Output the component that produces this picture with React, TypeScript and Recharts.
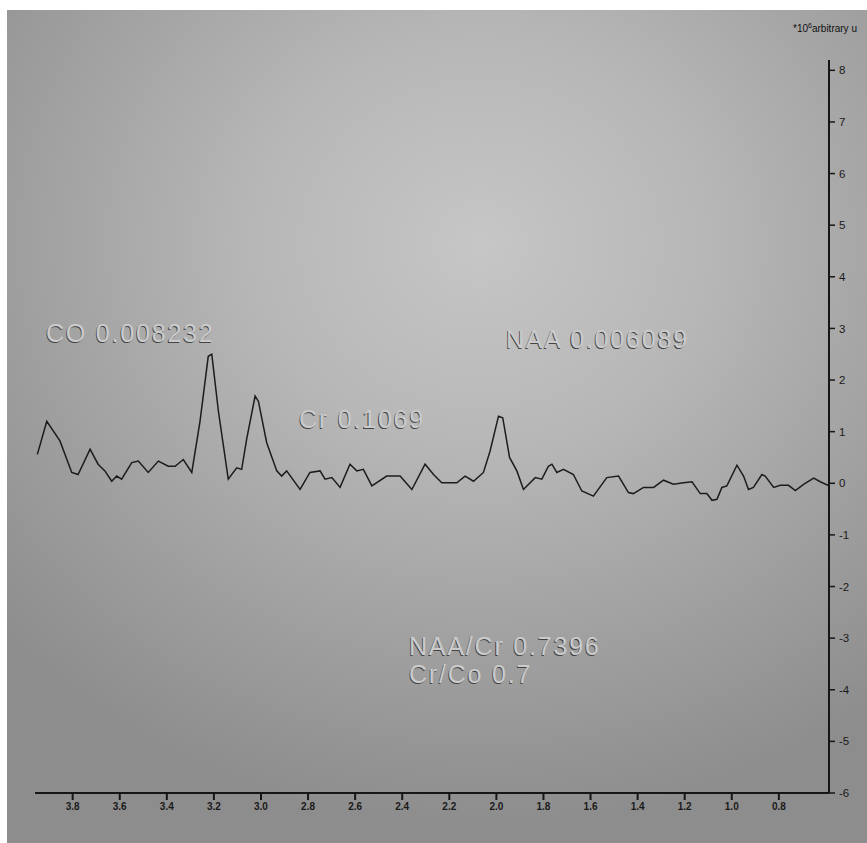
import React from "react";
import { LineChart, Line, XAxis, YAxis } from "recharts";

const ppm = [
  3.95, 3.91, 3.854, 3.804, 3.777, 3.726, 3.692, 3.663, 3.634, 3.613, 3.592, 3.549, 3.521, 3.479, 3.436,
  3.394, 3.365, 3.33, 3.294, 3.259, 3.224, 3.209, 3.181, 3.139, 3.103, 3.082, 3.061, 3.025, 3.011, 2.976,
  2.933, 2.912, 2.891, 2.834, 2.792, 2.749, 2.728, 2.699, 2.664, 2.622, 2.593, 2.565, 2.529, 2.466, 2.409,
  2.359, 2.303, 2.267, 2.232, 2.168, 2.133, 2.097, 2.055, 2.027, 1.991, 1.973, 1.944, 1.913, 1.885, 1.835,
  1.807, 1.779, 1.764, 1.743, 1.715, 1.673, 1.637, 1.588, 1.531, 1.481, 1.439, 1.418, 1.375, 1.332, 1.29,
  1.248, 1.205, 1.169, 1.134, 1.106, 1.084, 1.063, 1.042, 1.021, 0.978, 0.95, 0.929, 0.908, 0.872, 0.858,
  0.822, 0.794, 0.759, 0.73, 0.695, 0.652, 0.624, 0.587,
];

const intensity = [
  0.56, 1.2, 0.82, 0.21, 0.17, 0.66, 0.37, 0.24, 0.04, 0.14, 0.08, 0.4, 0.43, 0.21, 0.43,
  0.33, 0.33, 0.46, 0.21, 1.2, 2.46, 2.5, 1.4, 0.08, 0.3, 0.27, 0.85, 1.69, 1.59, 0.79,
  0.24, 0.14, 0.24, -0.12, 0.21, 0.24, 0.08, 0.11, -0.08, 0.37, 0.24, 0.27, -0.05, 0.14, 0.14,
  -0.12, 0.37, 0.17, 0.01, 0.01, 0.14, 0.04, 0.21, 0.62, 1.3, 1.27, 0.5, 0.24, -0.12, 0.11,
  0.08, 0.33, 0.37, 0.21, 0.27, 0.17, -0.15, -0.25, 0.11, 0.14, -0.18, -0.2, -0.08, -0.08, 0.06,
  -0.02, 0.01, 0.03, -0.2, -0.2, -0.33, -0.31, -0.08, -0.05, 0.35, 0.14, -0.12, -0.08, 0.17, 0.14,
  -0.08, -0.04, -0.04, -0.14, -0.02, 0.1, 0.03, -0.05,
];

const xTicks = [3.8, 3.6, 3.4, 3.2, 3.0, 2.8, 2.6, 2.4, 2.2, 2.0, 1.8, 1.6, 1.4, 1.2, 1.0, 0.8];
const yTicks = [-6, -5, -4, -3, -2, -1, 0, 1, 2, 3, 4, 5, 6, 7, 8];

const unitPrefix = "*10";
const unitExp = "6";
const unitSuffix = "arbitrary u";

const annotations = [
  { text: "CO 0.008232", x: 46, y: 342 },
  { text: "Cr 0.1069", x: 299, y: 428 },
  { text: "NAA 0.006089", x: 506, y: 348 },
  { text: "NAA/Cr 0.7396", x: 409, y: 655 },
  { text: "Cr/Co 0.7", x: 409, y: 683 },
];

const data = ppm.map((p, i) => ({ ppm: p, v: intensity[i] }));

const axisColor = "#161616";
const font = "'Liberation Sans', Arial, sans-serif";

export default function App() {
  return (
    <div style={{ position: "absolute", left: 0, top: 0, width: 867, height: 843, background: "#ffffff", overflow: "hidden" }}>
      <div
        style={{
          position: "absolute",
          left: 7,
          top: 10,
          width: 860,
          height: 833,
          background:
            "radial-gradient(ellipse 75% 70% at 55% 28%, #c6c6c6 0%, #b7b7b7 35%, #a0a0a0 70%, #8d8d8d 100%)",
        }}
      />
      <div style={{ position: "absolute", left: 0, top: 0 }}>
        <LineChart width={867} height={843} data={data} margin={{ top: 60, right: 0, bottom: 0, left: 35 }}>
          <XAxis
            dataKey="ppm"
            type="number"
            domain={[0.587, 3.96]}
            reversed
            allowDataOverflow
            ticks={xTicks}
            tickFormatter={(v: number) => v.toFixed(1)}
            height={50}
            tickSize={7}
            tickMargin={3}
            axisLine={{ stroke: axisColor, strokeWidth: 2.2 }}
            tickLine={{ stroke: axisColor, strokeWidth: 2 }}
            tick={{ fill: "#1a1a1a", fontSize: 10, fontFamily: font, fontWeight: 700 }}
          />
          <YAxis
            orientation="right"
            type="number"
            domain={[-6, 8.2]}
            allowDataOverflow
            ticks={yTicks}
            width={38}
            tickSize={6}
            tickMargin={4}
            axisLine={{ stroke: axisColor, strokeWidth: 2 }}
            tickLine={{ stroke: axisColor, strokeWidth: 1.5 }}
            tick={{ fill: "#1a1a1a", fontSize: 11.5, fontFamily: font }}
          />
          <Line
            type="linear"
            dataKey="v"
            stroke="#1c1c1c"
            strokeWidth={1.5}
            dot={false}
            isAnimationActive={false}
          />
        </LineChart>
      </div>
      <svg width={867} height={843} style={{ position: "absolute", left: 0, top: 0, pointerEvents: "none" }}>
        <text x={793} y={32} fontSize={10} fontFamily={font} fill="#111">
          <tspan>{unitPrefix}</tspan>
          <tspan fontSize={7} dy={-4}>{unitExp}</tspan>
          <tspan dy={4}>{unitSuffix}</tspan>
        </text>
        {annotations.map((a) => (
          <g key={a.text}>
            <text x={a.x - 0.8} y={a.y + 0.8} fontSize={25} fontFamily={font} letterSpacing={1.8} fill="#444">
              {a.text}
            </text>
            <text x={a.x} y={a.y} fontSize={25} fontFamily={font} letterSpacing={1.8} fill="#cbcbcb">
              {a.text}
            </text>
          </g>
        ))}
      </svg>
    </div>
  );
}
